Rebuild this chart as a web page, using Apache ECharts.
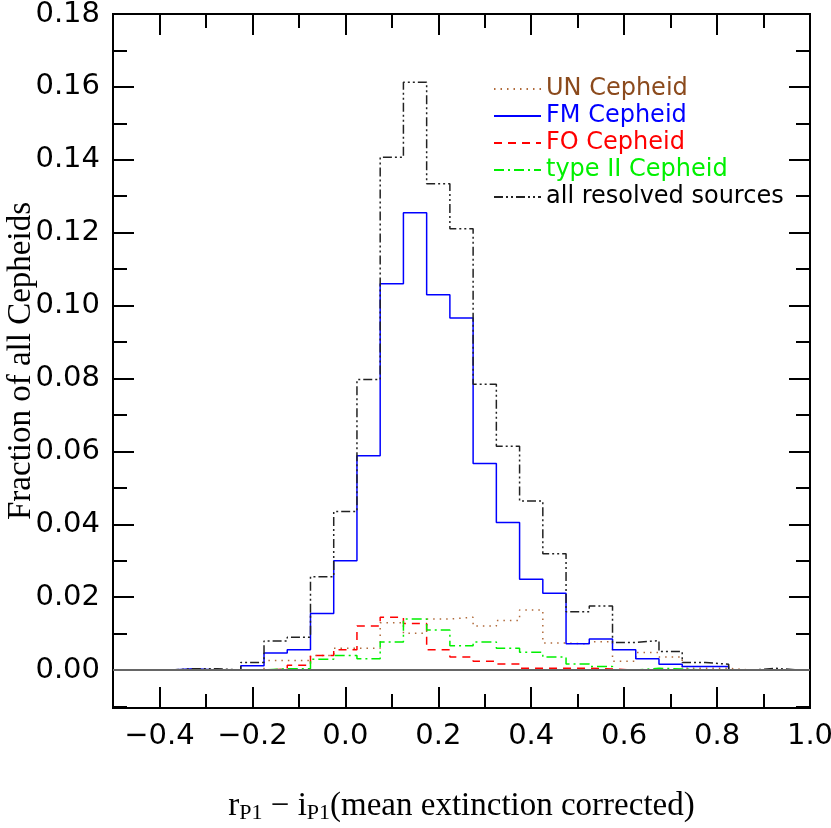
<!DOCTYPE html>
<html>
<head>
<meta charset="utf-8">
<script src="https://cdn.jsdelivr.net/npm/echarts@6/dist/echarts.min.js"></script>
<style>
  html, body { margin: 0; padding: 0; background: #fff; }
  #main { width: 831px; height: 828px; }
</style>
</head>
<body>
<div id="main"></div>
<script>
// bin centres (bin width 0.05)
var binCenters = [-0.40, -0.35, -0.30, -0.25, -0.20, -0.15, -0.10, -0.05, 0.00, 0.05,
  0.10, 0.15, 0.20, 0.25, 0.30, 0.35, 0.40, 0.45, 0.50, 0.55,
  0.60, 0.65, 0.70, 0.75, 0.80, 0.85, 0.90, 0.95];
var binWidth = 0.05;

var unCepheid = [0, 0, 0, 0, 0, 0.0026, 0.0026, 0.0040, 0.0060, 0.0060,
  0.0130, 0.0101, 0.0140, 0.0145, 0.0121, 0.0136, 0.0165, 0.0074, 0.0072, 0.0078,
  0.0024, 0.0048, 0.0036, 0.0005, 0.0005, 0, 0, 0];
var fmCepheid = [0, 0.0004, 0, 0, 0.0012, 0.0047, 0.0056, 0.0155, 0.0300, 0.0588,
  0.1060, 0.1255, 0.1030, 0.0966, 0.0567, 0.0405, 0.0249, 0.0211, 0.0072, 0.0085,
  0.0056, 0.0031, 0.0016, 0.0010, 0.0010, 0, 0, 0];
var foCepheid = [0, 0, 0, 0, 0, 0.0003, 0.0013, 0.0040, 0.0056, 0.0121,
  0.0145, 0.0128, 0.0056, 0.0036, 0.0024, 0.0017, 0.0005, 0.0005, 0.0005, 0.0003,
  0, 0, 0, 0, 0, 0, 0, 0];
var type2Cepheid = [0, 0, 0, 0, 0, 0.0004, 0.0004, 0.0030, 0.0040, 0.0031,
  0.0077, 0.0140, 0.0110, 0.0067, 0.0077, 0.0060, 0.0049, 0.0036, 0.0017, 0.0010,
  0, 0.0005, 0.0003, 0, 0, 0, 0, 0];
var allSources = [0, 0.0004, 0.0004, 0, 0.0021, 0.0080, 0.0090, 0.0256, 0.0435, 0.0797,
  0.1407, 0.1613, 0.1334, 0.1211, 0.0784, 0.0614, 0.0464, 0.0319, 0.0160, 0.0176,
  0.0076, 0.0081, 0.0051, 0.0021, 0.0016, 0, 0.0005, 0];

var xMajor = [-0.4, -0.2, 0.0, 0.2, 0.4, 0.6, 0.8, 1.0];
var xMinor = [-0.5, -0.3, -0.1, 0.1, 0.3, 0.5, 0.7, 0.9];
var yMajor = [0.00, 0.02, 0.04, 0.06, 0.08, 0.10, 0.12, 0.14, 0.16, 0.18];
var yMinor = [-0.01, 0.01, 0.03, 0.05, 0.07, 0.09, 0.11, 0.13, 0.15, 0.17];

// histogram as step line: point at left edge of each bin, closing at zero
function toSteps(vals) {
  var pts = [];
  for (var i = 0; i < vals.length; i++) {
    pts.push([binCenters[i] - binWidth / 2, vals[i]]);
  }
  pts.push([binCenters[binCenters.length - 1] + binWidth / 2, 0]);
  return pts;
}

var chart = echarts.init(document.getElementById('main'));

var axisLine = { show: true, onZero: false, lineStyle: { color: '#000', width: 2 } };
var labelFont = { fontFamily: 'DejaVu Sans', fontSize: 29, color: '#000' };

function xAx(pos, vals, len, labels) {
  return {
    type: 'value', position: pos, min: -0.5, max: 1.0,
    axisLine: axisLine,
    splitLine: { show: false },
    axisTick: { show: true, inside: true, length: len, customValues: vals, lineStyle: { color: '#000', width: 2 } },
    axisLabel: labels ? Object.assign({
      show: true, margin: 14, customValues: vals,
      formatter: function (v) { return v.toFixed(1).replace('-', '\u2212'); }
    }, labelFont) : { show: false }
  };
}
function yAx(pos, vals, len, labels) {
  return {
    type: 'value', position: pos, min: -0.0104, max: 0.18,
    axisLine: axisLine,
    splitLine: { show: false },
    axisTick: { show: true, inside: true, length: len, customValues: vals, lineStyle: { color: '#000', width: 2 } },
    axisLabel: labels ? Object.assign({
      show: true, margin: 13, customValues: vals,
      formatter: function (v) { return v.toFixed(2); }
    }, labelFont) : { show: false }
  };
}

var xAxes = [xAx('bottom', xMajor, 21, true), xAx('bottom', xMinor, 14, false),
  xAx('top', xMajor, 21, false), xAx('top', xMinor, 14, false)];
xAxes[0].name = '{n|r}{s|P1}{n| \u2212 i}{s|P1}{n|(mean extinction corrected)}';
xAxes[0].nameLocation = 'middle';
xAxes[0].nameGap = 80;
xAxes[0].nameMoveOverlap = false;
xAxes[0].nameTextStyle = {
  rich: {
    n: { fontFamily: 'Liberation Serif', fontSize: 33, color: '#000' },
    s: { fontFamily: 'Liberation Serif', fontSize: 22, color: '#000', padding: [14, 0, 0, 0] }
  }
};

var yAxes = [yAx('left', yMajor, 21, true), yAx('left', yMinor, 14, false),
  yAx('right', yMajor, 21, false), yAx('right', yMinor, 14, false)];
yAxes[0].name = 'Fraction of all Cepheids';
yAxes[0].nameLocation = 'middle';
yAxes[0].nameRotate = 90;
yAxes[0].nameGap = 75;
yAxes[0].nameMoveOverlap = false;
yAxes[0].nameTextStyle = { fontFamily: 'Liberation Serif', fontSize: 33, color: '#000' };

function histSeries(name, vals, color, dash, width) {
  return {
    name: name, type: 'line', step: 'end', data: toSteps(vals),
    symbol: 'none', silent: true, animation: false,
    lineStyle: { color: color, width: width, type: dash },
    itemStyle: { color: color }
  };
}

var series = [
  histSeries('UN Cepheid', unCepheid, '#b06a3a', [1.5, 5], 1.5),
  histSeries('FM Cepheid', fmCepheid, '#0000ff', 'solid', 1.5),
  histSeries('FO Cepheid', foCepheid, '#ff0000', [8, 6], 1.5),
  histSeries('type II Cepheid', type2Cepheid, '#00f000', [10, 4, 2, 4], 1.5),
  histSeries('all resolved sources', allSources, '#222222', [9, 3, 2, 3, 2, 3], 1.5)
];
series[0].markLine = {
  silent: true, symbol: 'none', label: { show: false }, animation: false,
  lineStyle: { color: '#666', width: 2, type: 'solid' },
  data: [{ yAxis: 0 }]
};

chart.setOption({
  backgroundColor: '#fff',
  animation: false,
  grid: { left: 113, right: 21, top: 14, bottom: 120, containLabel: false, outerBoundsMode: 'none' },
  legend: {
    orient: 'vertical', left: 493, top: 77, padding: 0,
    itemWidth: 47, itemHeight: 10, itemGap: 3,
    itemStyle: { opacity: 0 },
    textStyle: { fontFamily: 'DejaVu Sans', fontSize: 24, lineHeight: 22 },
    data: [
      { name: 'UN Cepheid', textStyle: { color: '#8b4a1c' } },
      { name: 'FM Cepheid', textStyle: { color: '#0000ff' } },
      { name: 'FO Cepheid', textStyle: { color: '#ff0000' } },
      { name: 'type II Cepheid', textStyle: { color: '#00f000' } },
      { name: 'all resolved sources', textStyle: { color: '#000' } }
    ]
  },
  xAxis: xAxes,
  yAxis: yAxes,
  series: series
});
</script>
</body>
</html>
